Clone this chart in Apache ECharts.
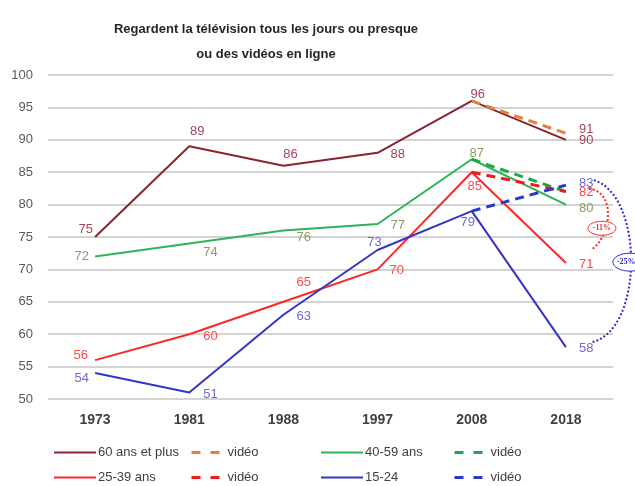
<!DOCTYPE html>
<html>
<head>
<meta charset="utf-8">
<script src="https://cdn.jsdelivr.net/npm/echarts@6/dist/echarts.min.js"></script>
<style>
  html, body { margin: 0; padding: 0; background: #fff; }
  #main { width: 635px; height: 486px; }
</style>
</head>
<body>
<div id="main"></div>
<script>
// années (axe X)
const years = ['1973', '1981', '1988', '1997', '2008', '2018'];

// % qui regardent la télévision tous les jours ou presque
const age60 = [75, 89, 86, 88, 96, 90];
const age40 = [72, 74, 76, 77, 87, 80];
const age25 = [56, 60, 65, 70, 85, 71];
const age15 = [54, 51, 63, 73, 79, 58];

// télé ou vidéos en ligne (seulement 2008 -> 2018)
const age60Video = [null, null, null, null, 96, 91];
const age40Video = [null, null, null, null, 87, 82];
const age25Video = [null, null, null, null, 85, 82];
const age15Video = [null, null, null, null, 79, 83];

// écarts annotés à droite
const gapText = ['-11%', '-25%'];
const gapFrom = [82, 83];
const gapTo = [71, 58];

// placement des étiquettes : [position, dx, dy] (null = pas d'étiquette)
const place60 = [['left', 3, -8], ['top', 8, -3], ['top', 7, 0], ['right', 8, 2], ['top', 6, 5], ['right', 8, 1]];
const place40 = [['left', -1, 0], ['right', 9, 9], ['right', 8, 7], ['right', 8, 1], ['top', 5, 6], ['right', 8, 4]];
const place25 = [['left', -2, -5], ['right', 9, 2], ['right', 8, -19], ['right', 7, 1], ['bottom', 3, 3], ['right', 8, 2]];
const place15 = [['left', -1, 5], ['right', 9, 2], ['right', 8, 2], ['top', -3, 4], ['bottom', -4, 0], ['right', 8, 1]];
const place60Video = [null, null, null, null, null, ['right', 8, -4]];
const place40Video = [null, null, null, null, null, null];
const place25Video = [null, null, null, null, null, ['right', 8, 1]];
const place15Video = [null, null, null, null, null, ['right', 8, -2]];

const FONT = 'Liberation Sans, Arial, sans-serif';

function withLabels(values, places, color) {
  return values.map((v, i) => {
    if (v == null) return null;
    const p = places[i];
    if (!p) return v;
    return {
      value: v,
      label: { show: true, position: p[0], offset: [p[1], p[2]], color: color, fontSize: 13, fontFamily: FONT }
    };
  });
}

function solid(name, values, places, color, labelColor) {
  return {
    name: name, type: 'line', symbol: 'circle', symbolSize: 0, showSymbol: true, z: 3,
    lineStyle: { color: color, width: 2 },
    itemStyle: { color: color },
    data: withLabels(values, places, labelColor)
  };
}

function dashed(name, values, places, color, labelColor) {
  return {
    name: name, type: 'line', symbol: 'circle', symbolSize: 0, showSymbol: true, z: 4,
    lineStyle: { color: color, width: 3, type: [9, 6] },
    itemStyle: { color: color },
    data: withLabels(values, places, labelColor)
  };
}

function legendCol(left, names, dashedIcon) {
  return {
    orient: 'vertical', left: left, top: 446, padding: 0,
    itemWidth: dashedIcon ? 28 : 42, itemHeight: 14, itemGap: 12,
    data: names,
    formatter: (n) => n.split('|')[0],
    itemStyle: { opacity: 0 },
    lineStyle: dashedIcon ? { width: 3, type: [9, 10] } : { width: 2 },
    textStyle: { fontSize: 13, color: '#404040', fontFamily: FONT, padding: [0, 0, 0, dashedIcon ? 3 : -3] },
    selectedMode: false
  };
}

const chart = echarts.init(document.getElementById('main'));

chart.setOption({
  animation: false,
  backgroundColor: '#fff',
  title: {
    text: 'Regardent la télévision tous les jours ou presque\nou des vidéos en ligne',
    left: 261, top: 12, textAlign: 'center',
    textStyle: { fontSize: 13, fontWeight: 'bold', color: '#262626', lineHeight: 25, fontFamily: FONT }
  },
  grid: { left: 48, right: 22, top: 75, bottom: 87 },
  xAxis: {
    type: 'category', data: years, boundaryGap: true,
    axisLine: { show: false }, axisTick: { show: false },
    axisLabel: { fontSize: 14, fontWeight: 'bold', color: '#404040', margin: 14, fontFamily: FONT }
  },
  yAxis: {
    type: 'value', min: 50, max: 100, interval: 5,
    axisLine: { show: false }, axisTick: { show: false },
    axisLabel: { fontSize: 13, color: '#595959', margin: 15, fontFamily: FONT },
    splitLine: { lineStyle: { color: '#C4C4C4', width: 1.6 } }
  },
  legend: [
    legendCol(53, ['60 ans et plus', '25-39 ans'], false),
    legendCol(190, ['vidéo|60', 'vidéo|25'], true),
    legendCol(320, ['40-59 ans', '15-24'], false),
    legendCol(453, ['vidéo|40', 'vidéo|15'], true)
  ],
  series: [
    solid('60 ans et plus', age60, place60, '#8A2330', '#A34557'),
    solid('40-59 ans', age40, place40, '#2DB45A', '#8C9A5E'),
    solid('25-39 ans', age25, place25, '#FF2626', '#FF4A4A'),
    solid('15-24', age15, place15, '#3535C4', '#6A6AD6'),
    dashed('vidéo|60', age60Video, place60Video, '#E0803C', '#A34557'),
    dashed('vidéo|40', age40Video, place40Video, '#1EA84E', '#8C9A5E'),
    dashed('vidéo|25', age25Video, place25Video, '#F01A1A', '#FF4A4A'),
    dashed('vidéo|15', age15Video, place15Video, '#2A38D0', '#6A6AD6')
  ]
});

// arcs pointillés + ellipses des écarts
const last = years.length - 1;
const px = (v) => chart.convertToPixel({ xAxisIndex: 0, yAxisIndex: 0 }, [last, v]);
const gapColors = ['#FF2A2A', '#2A2AD0'];
const graphics = [];

// -11%
{
  const a = px(gapFrom[0]), b = px(gapTo[0]);
  const s = [a[0] + 23, a[1] - 3], e = [b[0] + 25, b[1] - 13];
  graphics.push({
    type: 'bezierCurve', z: 10,
    shape: { x1: s[0], y1: s[1], x2: e[0], y2: e[1], cpx1: s[0] + 28, cpy1: s[1] + 3, cpx2: e[0] + 20, cpy2: e[1] - 12 },
    style: { stroke: gapColors[0], lineWidth: 2, lineDash: [2, 2], fill: null }
  });
  const cy = (s[1] + e[1]) / 2 + 9;
  graphics.push({
    type: 'ellipse', z: 11,
    shape: { cx: s[0] + 13, cy: cy, rx: 14, ry: 7 },
    style: { fill: '#fff', stroke: gapColors[0], lineWidth: 1 }
  });
  graphics.push({
    type: 'text', z: 12,
    style: { text: gapText[0], x: s[0] + 13, y: cy, align: 'center', verticalAlign: 'middle', fill: gapColors[0], font: 'bold 8px Liberation Serif, serif' }
  });
}

// -25%
{
  const a = px(gapFrom[1]), b = px(gapTo[1]);
  const s = [a[0] + 28, a[1] - 5], e = [b[0] + 26, b[1] - 5];
  graphics.push({
    type: 'bezierCurve', z: 10,
    shape: { x1: s[0], y1: s[1], x2: e[0], y2: e[1], cpx1: s[0] + 50, cpy1: s[1] + 15, cpx2: e[0] + 52, cpy2: e[1] - 12 },
    style: { stroke: gapColors[1], lineWidth: 2, lineDash: [2, 2], fill: null }
  });
  const cy = (s[1] + e[1]) / 2 + 1;
  graphics.push({
    type: 'ellipse', z: 11,
    shape: { cx: s[0] + 36, cy: cy, rx: 17, ry: 9 },
    style: { fill: '#fff', stroke: gapColors[1], lineWidth: 1 }
  });
  graphics.push({
    type: 'text', z: 12,
    style: { text: gapText[1], x: s[0] + 23, y: cy, align: 'left', verticalAlign: 'middle', fill: gapColors[1], font: 'bold 8px Liberation Serif, serif' }
  });
}

chart.setOption({ graphic: graphics });
</script>
</body>
</html>
